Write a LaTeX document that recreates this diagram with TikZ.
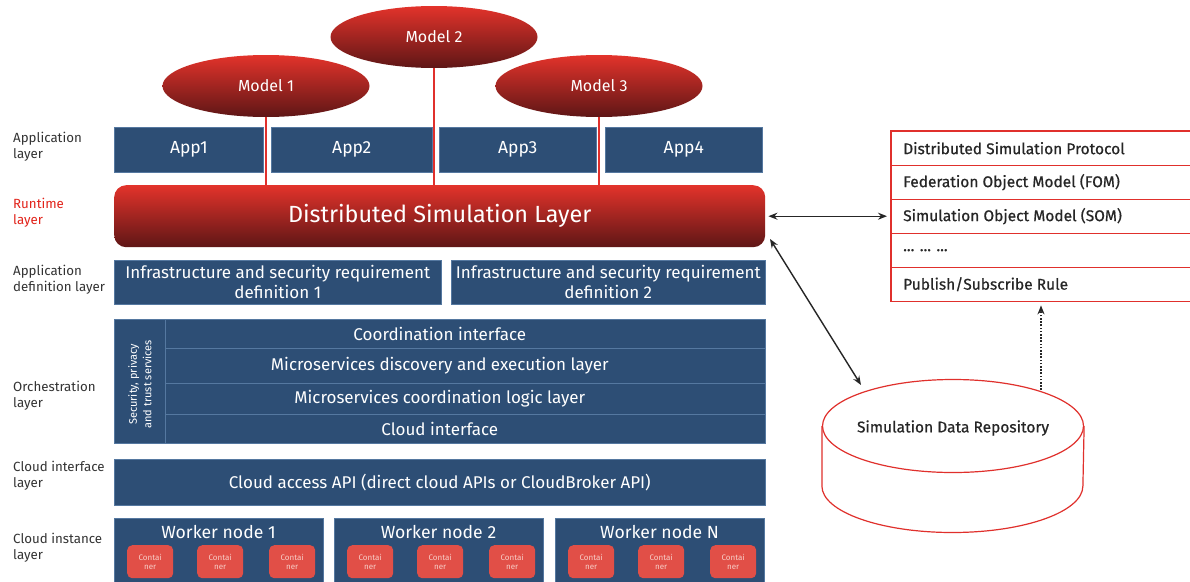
\documentclass[tikz,border=0pt]{standalone}
\usepackage{fontspec}
\setmainfont{Fira Sans}
\newfontfamily\semib{Fira Sans}[FakeBold=0.6]
\usetikzlibrary{shapes.geometric,arrows.meta}
\definecolor{bluebox}{HTML}{2D4E75}
\definecolor{blueedge}{HTML}{5578A0}
\definecolor{tblred}{HTML}{E0302C}
\definecolor{contred}{HTML}{E14F47}
\definecolor{conttxt}{HTML}{F8CFC8}
\definecolor{lbl}{HTML}{333333}
\definecolor{txtdark}{HTML}{262626}
\definecolor{rtred}{HTML}{E2231A}
\definecolor{dsltop}{HTML}{E3332B}
\definecolor{dslbot}{HTML}{5E1616}
\tikzset{
  blk/.style={fill=bluebox, draw=blueedge, line width=0.6pt, text=white, inner sep=0pt, anchor=north west},
  model/.style={ellipse, minimum width=207, minimum height=62, top color=dsltop, bottom color=dslbot, text=white, inner sep=0pt, font=\fontsize{16}{18}\selectfont},
  redline/.style={draw=tblred, line width=1.4pt},
  cont/.style={fill=contred, rounded corners=5pt, minimum width=46, minimum height=33, text=conttxt, inner sep=0pt, anchor=north west, align=center, font=\fontsize{8}{9.5}\selectfont},
  trow/.style={minimum height=34, minimum width=300, inner sep=0pt, anchor=north west},
  tline/.style={draw=tblred, line width=1.4pt},
  tsep/.style={fill=tblred},
  ttext/.style={anchor=west, inner sep=0pt, text=txtdark, font=\semib\fontsize{15.5}{17}\selectfont},
  lab/.style={anchor=west, align=left, inner sep=0pt, text=lbl, font=\fontsize{13.3}{16}\selectfont},
  arr/.style={draw=black!85, line width=1.4pt, {Stealth[length=9pt,width=7pt]}-{Stealth[length=9pt,width=7pt]}},
  worker/.style={blk, minimum width=209, minimum height=64},
  wtitle/.style={text=white, inner sep=0pt, font=\fontsize{17.6}{19}\selectfont},
  btxt/.style={font=\fontsize{17}{19}\selectfont},
}
\begin{document}
\begin{tikzpicture}[x=1pt,y=-1pt]
\useasboundingbox[fill=white] (0,0) rectangle (1190,581);

% left labels
\node[lab] (l1) at (13,147) {Application\\layer};
\node[lab, text=rtred] (l2) at (13,213) {Runtime\\layer};
\node[lab] (l3) at (13,280) {Application\\definition layer};
\node[lab] (l4) at (13,396) {Orchestration\\layer};
\node[lab] (l5) at (13,476) {Cloud interface\\layer};
\node[lab] (l6) at (13,548) {Cloud instance\\layer};

% apps
\node[blk, minimum width=149, minimum height=45, font=\fontsize{17.5}{19}\selectfont] (app1) at (114,127) {App1};
\node[blk, minimum width=161, minimum height=45, font=\fontsize{17.5}{19}\selectfont] (app2) at (271,127) {App2};
\node[blk, minimum width=157, minimum height=45, font=\fontsize{17.5}{19}\selectfont] (app3) at (439,127) {App3};
\node[blk, minimum width=157, minimum height=45, font=\fontsize{17.5}{19}\selectfont] (app4) at (605,127) {App4};

% distributed simulation layer
\node[anchor=north west, minimum width=651, minimum height=62, rounded corners=12pt, top color=dsltop, bottom color=dslbot, text=white, inner sep=0pt, font=\fontsize{23.4}{26}\selectfont] (dsl) at (114,185) {Distributed Simulation Layer};

% models
\node[model] (m1) at (266,86) {Model 1};
\node[model] (m2) at (434,37) {Model 2};
\node[model] (m3) at (599,86) {Model 3};
\draw[redline] (m1.south) -- (m1.south |- dsl.north);
\draw[redline] (m2.south) -- (m2.south |- dsl.north);
\draw[redline] (m3.south) -- (m3.south |- dsl.north);

% application definition
\node[blk, minimum width=327, minimum height=44, align=center, font=\fontsize{17}{20}\selectfont] (def1) at (114,260) {Infrastructure and security requirement\\definition 1};
\node[blk, minimum width=314, minimum height=44, align=center, font=\fontsize{17}{20}\selectfont] (def2) at (451,260) {Infrastructure and security requirement\\definition 2};

% orchestration
\node[blk, btxt, minimum width=651, minimum height=29] (o1) at (114,319) {Coordination interface};
\node[blk, btxt, minimum width=651, minimum height=35] (o2) at (114,348) {Microservices discovery and execution layer};
\node[blk, btxt, minimum width=651, minimum height=31] (o3) at (114,383) {Microservices coordination logic layer};
\node[blk, btxt, minimum width=651, minimum height=29] (o4) at (114,414) {Cloud interface};
\node[blk, minimum width=51, minimum height=124] (sec) at (114,319) {};
\node[text=white, rotate=90, align=center, inner sep=0pt, font=\fontsize{11}{14.5}\selectfont] (sect) at ([yshift=-3pt]sec.center) {Security, privacy\\and trust services};

% cloud access
\node[blk, btxt, minimum width=651, minimum height=46] (api) at (114,459) {Cloud access API (direct cloud APIs or CloudBroker API)};

% worker nodes
\node[worker] (w1) at (114,518) {};
\node[worker] (w2) at (334,518) {};
\node[worker] (w3) at (555,518) {};
\node[wtitle] (w1t) at (218.5,532) {Worker node 1};
\node[wtitle] (w2t) at (438.5,532) {Worker node 2};
\node[wtitle] (w3t) at (659.5,532) {Worker node N};
\foreach \w/\x in {1/114, 2/334, 3/555} {
  \node[cont] (c\w a) at (\x+13,545) {Contai\\ner};
  \node[cont] (c\w b) at (\x+83,545) {Contai\\ner};
  \node[cont] (c\w c) at (\x+155,545) {Contai\\ner};
}

% protocol table
\node[trow] (t1) at (891,131) {};
\node[trow] (t2) at (891,165) {};
\node[trow] (t3) at (891,199) {};
\node[trow] (t4) at (891,233) {};
\node[trow] (t5) at (891,267) {};
\draw[tline] (t1.north east) -- (t1.north west) -- (t5.south west) -- (t5.south east);
\foreach \r in {t1,t2,t3,t4} {
  \fill[tsep] ([yshift=0.9pt]\r.south west) rectangle ([yshift=-0.9pt]\r.south east);
}
\node[ttext] (t1l) at ([xshift=12pt]t1.west) {Distributed Simulation Protocol};
\node[ttext] (t2l) at ([xshift=12pt]t2.west) {Federation Object Model (FOM)};
\node[ttext] (t3l) at ([xshift=12pt]t3.west) {Simulation Object Model (SOM)};
\node[ttext] (t4l) at ([xshift=12pt]t4.west) {... ... ...};
\node[ttext] (t5l) at ([xshift=12pt]t5.west) {Publish/Subscribe Rule};

% repository cylinder
\node[ellipse, draw=tblred, line width=1.2pt, minimum width=261, minimum height=93, inner sep=0pt] (repo) at (953,426) {};
\node[ttext, anchor=center, font=\semib\fontsize{15.5}{17}\selectfont] (repol) at (953,428) {Simulation Data Repository};
\draw[draw=tblred, line width=1.2pt] (repo.west) -- ++(0,60) arc[start angle=180, end angle=360, x radius=130.5pt, y radius=46.5pt] -- (repo.east);

% arrows
\draw[arr, shorten <=3pt, shorten >=4pt] (dsl.east) -- (dsl.east -| t3.west);
\coordinate (a2s) at (770,239);
\coordinate (a2e) at (861,385);
\draw[arr] (a2s) -- (a2e);
\coordinate (dstart) at (1041,390);
\draw[draw=black!85, line width=1.4pt, dash pattern=on 1.6pt off 1.6pt, -{Stealth[length=9pt,width=7pt]}, shorten >=4pt] (dstart) -- (dstart |- t5.south);
\end{tikzpicture}
\end{document}
